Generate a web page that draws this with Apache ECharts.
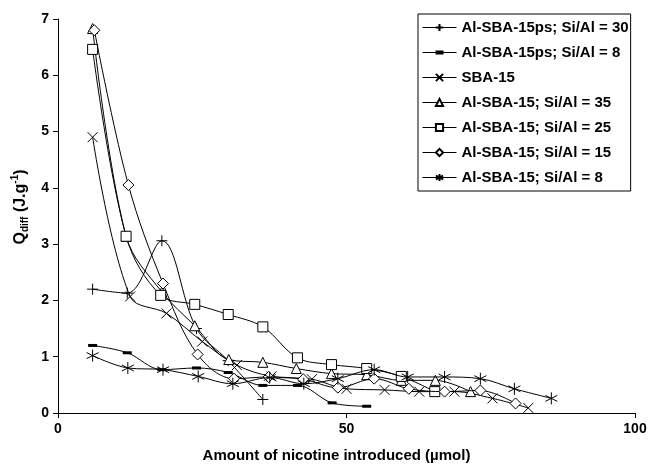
<!DOCTYPE html>
<html>
<head>
<meta charset="utf-8">
<script src="https://cdn.jsdelivr.net/npm/echarts@6/dist/echarts.min.js"></script>
<style>
  html, body { margin: 0; padding: 0; background: #fff; }
  #chart { width: 652px; height: 468px; }
</style>
</head>
<body>
<div id="chart"></div>
<script>
/* 数据 */
var names = ['Al-SBA-15ps; Si/Al = 30', 'Al-SBA-15ps; Si/Al = 8', 'SBA-15', 'Al-SBA-15; Si/Al = 35',
             'Al-SBA-15; Si/Al = 25', 'Al-SBA-15; Si/Al = 15', 'Al-SBA-15; Si/Al = 8'];

var ps30X = [6, 12, 18, 24, 29.5, 35.5];
var ps30Y = [2.2, 2.13, 3.06, 1.5, 0.93, 0.24];

var ps8X = [6, 12, 18, 24, 29.5, 35.5, 41.5, 47.5, 53.5];
var ps8Y = [1.2, 1.07, 0.77, 0.8, 0.72, 0.49, 0.49, 0.18, 0.12];

var sbaX = [6, 12.5, 18.8, 25, 31, 37, 44, 50, 56.6, 62.6, 68.7, 75.3, 81.5];
var sbaY = [4.9, 2.07, 1.77, 1.27, 0.85, 0.65, 0.6, 0.43, 0.41, 0.38, 0.38, 0.26, 0.09];

var s35X = [6, 11.8, 18, 23.7, 29.6, 35.5, 41.3, 47.4, 53.5, 59.5, 65.4, 71.5];
var s35Y = [6.83, 3.14, 2.15, 1.55, 0.95, 0.9, 0.79, 0.7, 0.68, 0.58, 0.58, 0.38];

var s25X = [6, 11.8, 17.8, 23.7, 29.5, 35.5, 41.5, 47.4, 53.5, 59.5, 65.3];
var s25Y = [6.46, 3.14, 2.09, 1.93, 1.75, 1.53, 0.98, 0.86, 0.79, 0.65, 0.38];

var s15X = [6.3, 12.2, 18.2, 24.2, 30.5, 36.5, 42.5, 48.5, 54.8, 60.8, 67, 73.2, 79.3];
var s15Y = [6.8, 4.05, 2.3, 1.04, 0.61, 0.64, 0.6, 0.45, 0.61, 0.43, 0.38, 0.4, 0.17];

var s8X = [6, 12.1, 18.2, 24.3, 30.3, 36.7, 42.6, 48.5, 54.8, 60.6, 67, 73.2, 79.1, 85.5];
var s8Y = [1.02, 0.8, 0.77, 0.65, 0.52, 0.63, 0.52, 0.61, 0.77, 0.64, 0.64, 0.61, 0.43, 0.26];

var xTicks = { min: 0, max: 100, step: 50 };
var yTicks = { min: 0, max: 7, step: 1 };

function pairs(xs, ys) {
  return xs.map(function (x, i) { return [x, ys[i]]; });
}

(function () {
  var myEchart = echarts.init(document.getElementById('chart'));
  var font = "'Liberation Sans', Arial, sans-serif";

  // 标记形状
  var plus = 'path://M5,0 L5,10 M0,5 L10,5';
  var cross = 'path://M0,0 L10,10 M0,10 L10,0';
  var star = 'path://M5,0 L5,10 M0.7,2.5 L9.3,7.5 M0.7,7.5 L9.3,2.5';
  // 图例里的短横线 + 粗横块
  var dashIcon = 'path://M0,1.6 L34,1.6 L34,2.4 L0,2.4 Z M13,0 L21,0 L21,4 L13,4 Z';

  var open = { color: '#fff', borderColor: '#000', borderWidth: 1 };
  var stroke = { color: '#000', borderColor: '#000', borderWidth: 1 };

  var setup = [
    { xs: ps30X, ys: ps30Y, symbol: plus, size: 11, style: stroke },
    { xs: ps8X, ys: ps8Y, symbol: 'rect', size: [9, 3], style: { color: '#000' } },
    { xs: sbaX, ys: sbaY, symbol: cross, size: 10, style: stroke },
    { xs: s35X, ys: s35Y, symbol: 'triangle', size: 10, style: open },
    { xs: s25X, ys: s25Y, symbol: 'rect', size: 10, style: open },
    { xs: s15X, ys: s15Y, symbol: 'diamond', size: 11, style: open },
    { xs: s8X, ys: s8Y, symbol: star, size: 12, style: stroke }
  ];

  var series = setup.map(function (s, i) {
    return {
      name: names[i],
      type: 'line',
      data: pairs(s.xs, s.ys),
      smooth: 0.35,
      symbol: s.symbol,
      symbolSize: s.size,
      showAllSymbol: true,
      lineStyle: { color: '#000', width: 1 },
      itemStyle: s.style,
      emphasis: { disabled: true },
      z: 2 + i
    };
  });

  var legendData = names.map(function (n, i) {
    return i === 1 ? { name: n, icon: dashIcon } : { name: n };
  });

  var option = {
    animation: false,
    backgroundColor: '#fff',
    textStyle: { fontFamily: font },
    grid: {
      left: 58,
      right: 17,
      top: 19,
      bottom: 54
    },
    legend: {
      orient: 'vertical',
      left: 418,
      top: 14,
      data: legendData,
      itemWidth: 34,
      itemHeight: 9,
      itemGap: 10,
      padding: [6, 2, 6, 4],
      borderColor: '#000',
      borderWidth: 1,
      backgroundColor: '#fff',
      lineStyle: { color: '#000', width: 1 },
      textStyle: { color: '#000', fontSize: 15, fontWeight: 'bold', fontFamily: font }
    },
    xAxis: {
      type: 'value',
      min: xTicks.min,
      max: xTicks.max,
      interval: xTicks.step,
      name: 'Amount of nicotine introduced (µmol)',
      nameLocation: 'middle',
      nameGap: 35,
      nameTextStyle: { color: '#000', fontSize: 15, fontWeight: 'bold', fontFamily: font, padding: [0, 20, 0, 0] },
      axisLine: { lineStyle: { color: '#000', width: 1 } },
      axisTick: { show: true, length: 5, lineStyle: { color: '#000' } },
      axisLabel: { color: '#000', fontSize: 14, fontWeight: 'bold', margin: 9 },
      splitLine: { show: false }
    },
    yAxis: {
      type: 'value',
      min: yTicks.min,
      max: yTicks.max,
      interval: yTicks.step,
      name: '{a|Q}{sub|diff}{a| (J.g}{sup|-1}{a|)}',
      nameLocation: 'middle',
      nameGap: 27,
      nameTextStyle: {
        color: '#000',
        fontFamily: font,
        padding: [0, 0, 0, 18],
        rich: {
          a: { fontSize: 16, fontWeight: 'bold', color: '#000', lineHeight: 20 },
          sub: { fontSize: 10, fontWeight: 'bold', color: '#000', verticalAlign: 'bottom', lineHeight: 20 },
          sup: { fontSize: 10, fontWeight: 'bold', color: '#000', verticalAlign: 'top', lineHeight: 20 }
        }
      },
      axisLine: { show: true, lineStyle: { color: '#000', width: 1 } },
      axisTick: { show: true, length: 5, lineStyle: { color: '#000' } },
      axisLabel: { color: '#000', fontSize: 14, fontWeight: 'bold', margin: 9 },
      splitLine: { show: false }
    },
    series: series
  };
  myEchart.setOption(option);
  window.addEventListener('resize', function () {
    myEchart.resize();
  });
})();
</script>
</body>
</html>
